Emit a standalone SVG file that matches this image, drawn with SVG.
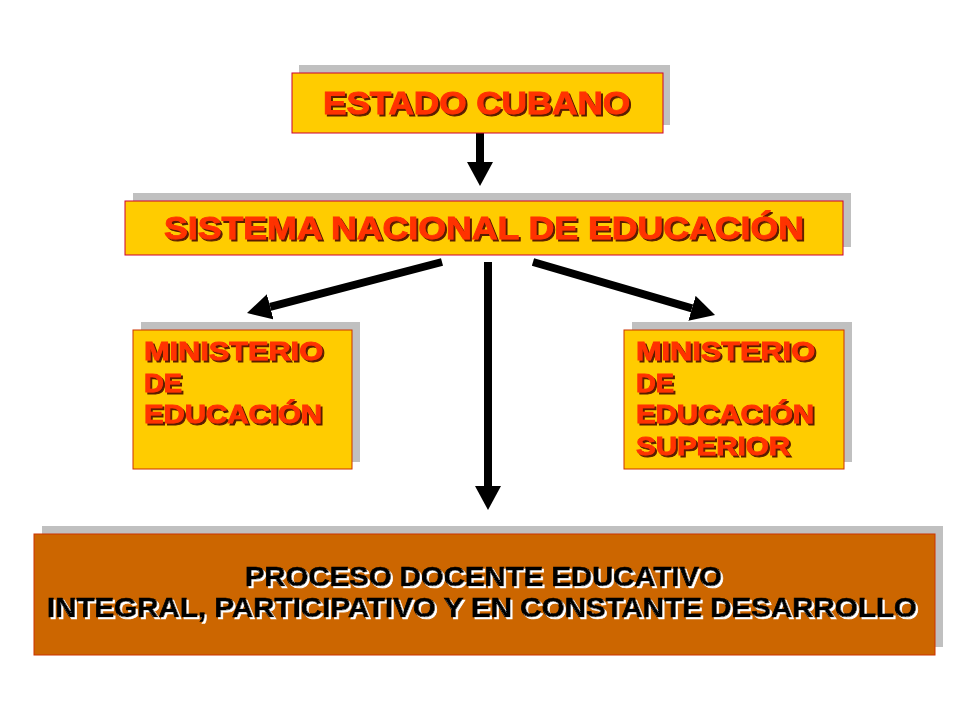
<svg xmlns="http://www.w3.org/2000/svg" width="960" height="720" viewBox="0 0 960 720">
<style>
.shadow{fill:#C0C0C0;}
.box{fill:#FFCC00;stroke:#CC0033;stroke-width:1;}
.box2{fill:#FFCC00;stroke:#CC3300;stroke-width:1;}
.bbox{fill:#CC6600;stroke:#CC3300;stroke-width:1;}
.t{font-family:"Liberation Sans",Arial,sans-serif;font-weight:bold;}
.tr{fill:#FF3300;stroke:#FF3300;stroke-width:0.9;filter:url(#ds);}
.tb{fill:#000000;stroke:#000000;stroke-width:0.7;filter:url(#ws);}
.conn{stroke:#000;stroke-width:8;fill:none;}
</style>
<defs>
<marker id="ah" markerUnits="userSpaceOnUse" markerWidth="24" markerHeight="26" viewBox="0 -13 24 26" refX="0" refY="0" orient="auto">
<path d="M0,-13 L24,0 L0,13 Z" fill="#000"/>
</marker>
<filter id="ds" x="-5%" y="-20%" width="110%" height="140%">
<feDropShadow dx="2" dy="2" stdDeviation="0" flood-color="#5A1E00" flood-opacity="1"/>
</filter>
<filter id="ws" x="-5%" y="-20%" width="110%" height="140%">
<feDropShadow dx="2" dy="2" stdDeviation="0" flood-color="#FFFFFF" flood-opacity="1"/>
</filter>
</defs>
<rect width="960" height="720" fill="#FFFFFF"/>
<g id="connectors">
<line class="conn" x1="480" y1="132" x2="480" y2="162" marker-end="url(#ah)"/>
<line class="conn" x1="442" y1="262" x2="270.2" y2="306.9" marker-end="url(#ah)"/>
<line class="conn" x1="488" y1="262" x2="488" y2="486" marker-end="url(#ah)"/>
<line class="conn" x1="533" y1="262" x2="692" y2="308.3" marker-end="url(#ah)"/>
</g>
<g id="estado">
<rect class="shadow" x="299" y="65" width="371" height="60"/>
<rect class="box" x="292" y="73" width="371" height="60"/>
<text class="t tr" x="323" y="114" font-size="31" textLength="307" lengthAdjust="spacingAndGlyphs">ESTADO CUBANO</text>
</g>
<g id="sistema">
<rect class="shadow" x="133" y="193" width="718" height="54"/>
<rect class="box" x="125" y="201" width="718" height="54"/>
<text class="t tr" x="164" y="239" font-size="32" textLength="640" lengthAdjust="spacingAndGlyphs">SISTEMA NACIONAL DE EDUCACIÓN</text>
</g>
<g id="mined">
<rect class="shadow" x="141" y="322" width="219" height="140"/>
<rect class="box2" x="133" y="330" width="219" height="139"/>
<text class="t tr" x="144" y="360" font-size="26" textLength="179" lengthAdjust="spacingAndGlyphs">MINISTERIO</text>
<text class="t tr" x="144" y="392" font-size="26" textLength="38" lengthAdjust="spacingAndGlyphs">DE</text>
<text class="t tr" x="144" y="423" font-size="26" textLength="178" lengthAdjust="spacingAndGlyphs">EDUCACIÓN</text>
</g>
<g id="mes">
<rect class="shadow" x="632" y="322" width="220" height="140"/>
<rect class="box2" x="624" y="330" width="220" height="139"/>
<text class="t tr" x="636" y="360" font-size="26" textLength="179" lengthAdjust="spacingAndGlyphs">MINISTERIO</text>
<text class="t tr" x="636" y="392" font-size="26" textLength="38" lengthAdjust="spacingAndGlyphs">DE</text>
<text class="t tr" x="636" y="423" font-size="26" textLength="178" lengthAdjust="spacingAndGlyphs">EDUCACIÓN</text>
<text class="t tr" x="636" y="455" font-size="26" textLength="154" lengthAdjust="spacingAndGlyphs">SUPERIOR</text>
</g>
<g id="proceso">
<rect class="shadow" x="42" y="526" width="901" height="121"/>
<rect class="bbox" x="34" y="534" width="901" height="121"/>
<text class="t tb" x="245" y="586" font-size="27" textLength="477" lengthAdjust="spacingAndGlyphs">PROCESO DOCENTE EDUCATIVO</text>
<text class="t tb" x="47" y="617" font-size="27" textLength="870" lengthAdjust="spacingAndGlyphs">INTEGRAL, PARTICIPATIVO Y EN CONSTANTE DESARROLLO</text>
</g>
</svg>
